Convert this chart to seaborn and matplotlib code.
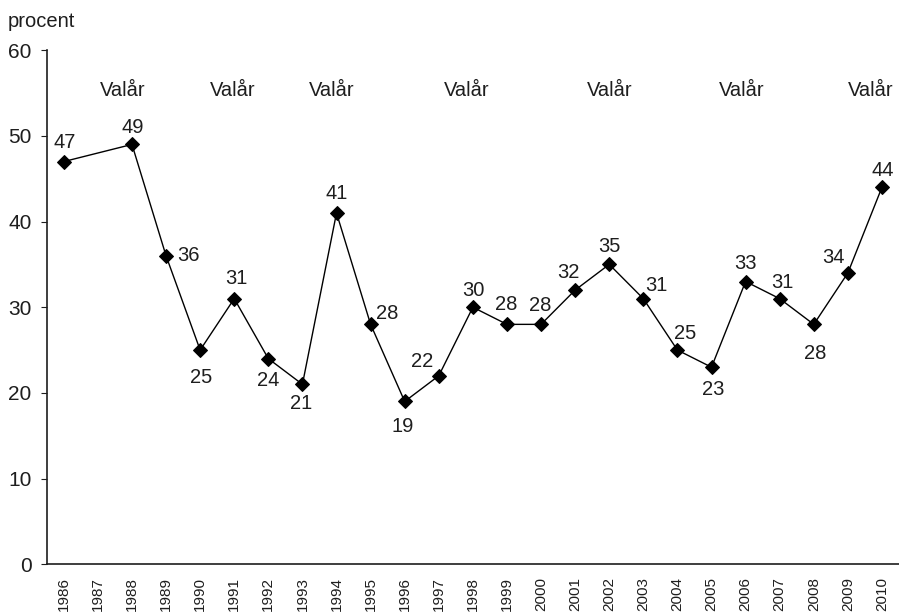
import pandas as pd
import matplotlib.pyplot as plt
import seaborn as sns

years = [1986, 1988, 1989, 1990, 1991, 1992, 1993, 1994, 1995, 1996, 1997,
         1998, 1999, 2000, 2001, 2002, 2003, 2004, 2005, 2006, 2007, 2008,
         2009, 2010]
values = [47, 49, 36, 25, 31, 24, 21, 41, 28, 19, 22,
          30, 28, 28, 32, 35, 31, 25, 23, 33, 31, 28,
          34, 44]
tick_years = list(range(1986, 2011))
election_years = [1988, 1991, 1994, 1998, 2002, 2006, 2010]

# label offset from marker centre, in pixels (dx, dy)
offsets = {
    1986: (1, 19), 1988: (1, 17), 1989: (22, 0), 1990: (1, -27),
    1991: (2, 20), 1992: (0, -22), 1993: (-1, -19), 1994: (0, 19),
    1995: (17, 11), 1996: (-2, -25), 1997: (-17, 14), 1998: (1, 17),
    1999: (-1, 20), 2000: (-1, 19), 2001: (-7, 18), 2002: (0, 18),
    2003: (13, 13), 2004: (8, 17), 2005: (2, -22), 2006: (0, 18),
    2007: (3, 16), 2008: (1, -29), 2009: (-14, 15), 2010: (1, 17),
}
valar_dx = [-9, -2, -5, -6, 0, -4, -11]

df = pd.DataFrame({"year": years, "value": values})

sns.set_style("ticks")
plt.rcParams["font.family"] = ["Liberation Sans", "DejaVu Sans"]
txt_col = "#1e1e1e"

fig = plt.figure(figsize=(8.99, 6.12), dpi=100)
ax = fig.add_axes([0.052, 0.078, 0.948, 0.84])

sns.lineplot(
    data=df,
    x="year",
    y="value",
    color="black",
    linewidth=1.0,
    marker="D",
    markersize=7,
    markeredgecolor="black",
    ax=ax
)

for y, v in zip(years, values):
    dx, dy = offsets[y]
    ax.annotate(
        str(v),
        (y, v),
        xytext=(dx, dy),
        textcoords="offset pixels",
        ha="center",
        va="center",
        fontsize=14.5,
        color=txt_col
    )

for y, dx in zip(election_years, valar_dx):
    ax.annotate(
        "Valår",
        (y, 55.3),
        xytext=(dx, 0),
        textcoords="offset pixels",
        ha="center",
        va="center",
        fontsize=14.5,
        color=txt_col,
        annotation_clip=False
    )

ax.set_xlim(1985.5, 2010.5)
ax.set_ylim(0, 60)
ax.set_yticks([0, 10, 20, 30, 40, 50, 60])
ax.set_xticks(tick_years)
ax.set_xticklabels([str(t) for t in tick_years], rotation=90, fontsize=11)
ax.tick_params(axis="x", length=0, pad=9, colors=txt_col)
ax.tick_params(axis="y", labelsize=15, length=4, pad=7, colors=txt_col)
ax.set_xlabel("")
ax.set_ylabel("")
sns.despine(ax=ax)
for s in ["left", "bottom"]:
    ax.spines[s].set_linewidth(1.2)
    ax.spines[s].set_color(txt_col)

fig.text(0.009, 0.965, "procent", fontsize=14.5, color=txt_col, va="center")

plt.savefig("out.png", dpi=100)
